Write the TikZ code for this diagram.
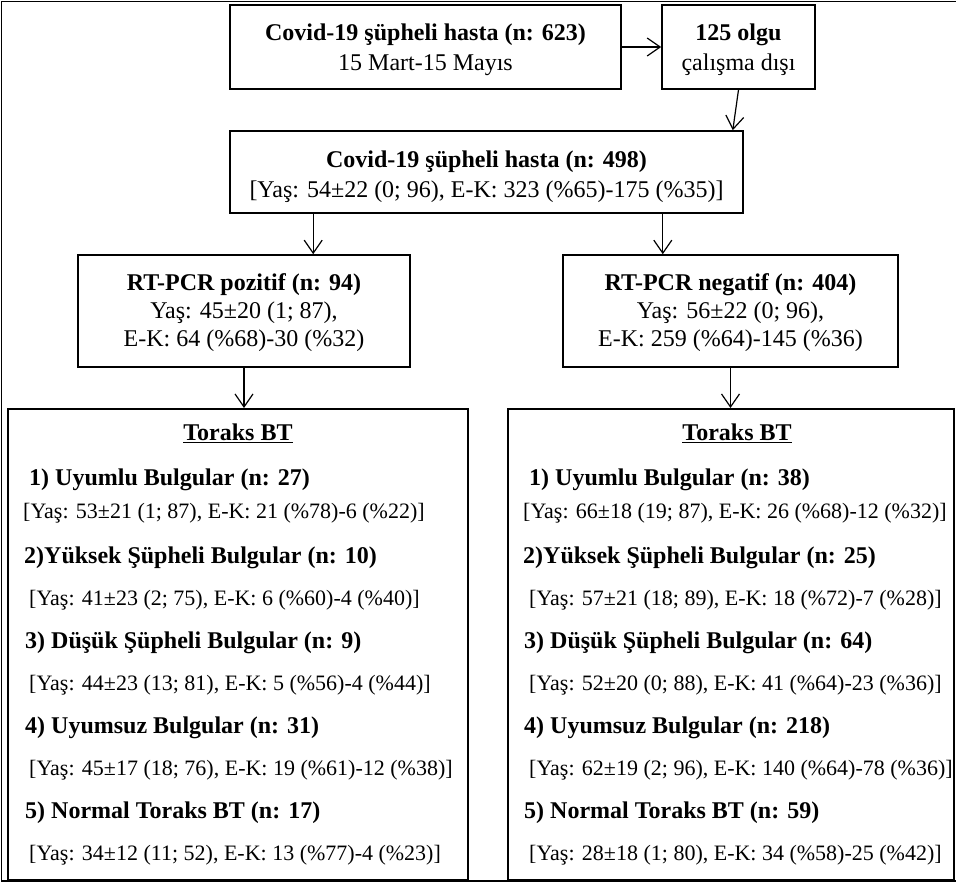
\documentclass[tikz,border=0pt]{standalone}
\usepackage{fontspec}
\setmainfont{Liberation Serif}
\usetikzlibrary{arrows.meta}

\begin{document}
\begin{tikzpicture}[x=1pt,y=-1pt,
    box/.style={draw,line width=1.6pt,align=center,inner sep=0pt,font=\fontsize{24}{30}\selectfont},
    bigbox/.style={draw,line width=2pt,inner sep=0pt},
    arr/.style={line width=1.2pt,-{Straight Barb[length=13pt,width=18pt]}},
    head/.style={anchor=west,inner sep=0pt,font=\fontsize{24}{28}\selectfont\bfseries},
    info/.style={anchor=west,inner sep=0pt,font=\fontsize{22}{26}\selectfont}]
    \useasboundingbox (0,0) rectangle (956,883);
    \draw[line width=1.8pt] (956,1.5) -- (1.5,1.5) -- (1.5,881) -- (956,881);

    % top of the chart
    \node[box,minimum width=391pt,minimum height=84pt] (all) at (425.5,47)
        {\rule{0pt}{23pt}\textbf{Covid-19 şüpheli hasta (n: 623)}\\15 Mart-15 Mayıs};
    \node[box,minimum width=153pt,minimum height=84pt] (excl) at (738.5,47)
        {\rule{0pt}{23pt}\textbf{125 olgu}\\çalışma dışı};
    \node[box,minimum width=513pt,minimum height=82pt] (study) at (486.5,172)
        {\rule{0pt}{27pt}\textbf{Covid-19 şüpheli hasta (n: 498)}\\{}[Yaş: 54±22 (0; 96), E-K: 323 (\%65)-175 (\%35)]};

    \node[box,minimum width=332pt,minimum height=112pt,font=\fontsize{24}{28}\selectfont] (pos) at (244,311)
        {\rule{0pt}{21pt}\textbf{RT-PCR pozitif (n: 94)}\\Yaş: 45±20 (1; 87),\\E-K: 64 (\%68)-30 (\%32)};
    \node[box,minimum width=335pt,minimum height=112pt,font=\fontsize{24}{28}\selectfont] (neg) at (730.5,311)
        {\rule{0pt}{21pt}\textbf{RT-PCR negatif (n: 404)}\\Yaş: 56±22 (0; 96),\\E-K: 259 (\%64)-145 (\%36)};

    \draw[arr] (all.east) -- (excl.west);
    \draw[arr] (excl.south) -- ([xshift=-11pt]study.north east);
    \coordinate (posfork) at ([xshift=84pt]study.south west);
    \coordinate (negfork) at ([xshift=-81pt]study.south east);
    \draw[arr] (posfork) -- (posfork |- pos.north);
    \draw[arr] (negfork) -- (negfork |- neg.north);

    % toraks BT boxes
    \node[bigbox,minimum width=460pt,minimum height=471pt] (posct) at (238,644.5) {};
    \node[bigbox,minimum width=446pt,minimum height=471pt] (negct) at (731,644.5) {};
    \draw[arr] (pos.south) -- (pos.south |- posct.north);
    \draw[arr] (neg.south) -- (neg.south |- negct.north);

    \node[font=\fontsize{24}{28}\selectfont\bfseries] (postitle) at (238,433) {\underline{Toraks BT}};
    \node[head] (pos1) at (29,480) {1) Uyumlu Bulgular (n: 27)};
    \node[info] (pos1i) at (23,513) {[Yaş: 53±21 (1; 87), E-K: 21 (\%78)-6 (\%22)]};
    \node[head] (pos2) at (24,558) {2)Yüksek Şüpheli Bulgular (n: 10)};
    \node[info] (pos2i) at (29,600) {[Yaş: 41±23 (2; 75), E-K: 6 (\%60)-4 (\%40)]};
    \node[head] (pos3) at (25,643) {3) Düşük Şüpheli Bulgular (n: 9)};
    \node[info] (pos3i) at (29,685) {[Yaş: 44±23 (13; 81), E-K: 5 (\%56)-4 (\%44)]};
    \node[head] (pos4) at (25,728) {4) Uyumsuz Bulgular (n: 31)};
    \node[info] (pos4i) at (29,770) {[Yaş: 45±17 (18; 76), E-K: 19 (\%61)-12 (\%38)]};
    \node[head] (pos5) at (25,813) {5) Normal Toraks BT (n: 17)};
    \node[info] (pos5i) at (29,855) {[Yaş: 34±12 (11; 52), E-K: 13 (\%77)-4 (\%23)]};

    \node[font=\fontsize{24}{28}\selectfont\bfseries] (negtitle) at (737,433) {\underline{Toraks BT}};
    \node[head] (neg1) at (529,480) {1) Uyumlu Bulgular (n: 38)};
    \node[info] (neg1i) at (523,513) {[Yaş: 66±18 (19; 87), E-K: 26 (\%68)-12 (\%32)]};
    \node[head] (neg2) at (523,558) {2)Yüksek Şüpheli Bulgular (n: 25)};
    \node[info] (neg2i) at (529,600) {[Yaş: 57±21 (18; 89), E-K: 18 (\%72)-7 (\%28)]};
    \node[head] (neg3) at (524,643) {3) Düşük Şüpheli Bulgular (n: 64)};
    \node[info] (neg3i) at (529,685) {[Yaş: 52±20 (0; 88), E-K: 41 (\%64)-23 (\%36)]};
    \node[head] (neg4) at (524,728) {4) Uyumsuz Bulgular (n: 218)};
    \node[info] (neg4i) at (529,770) {[Yaş: 62±19 (2; 96), E-K: 140 (\%64)-78 (\%36)]};
    \node[head] (neg5) at (524,813) {5) Normal Toraks BT (n: 59)};
    \node[info] (neg5i) at (529,855) {[Yaş: 28±18 (1; 80), E-K: 34 (\%58)-25 (\%42)]};
\end{tikzpicture}
\end{document}
